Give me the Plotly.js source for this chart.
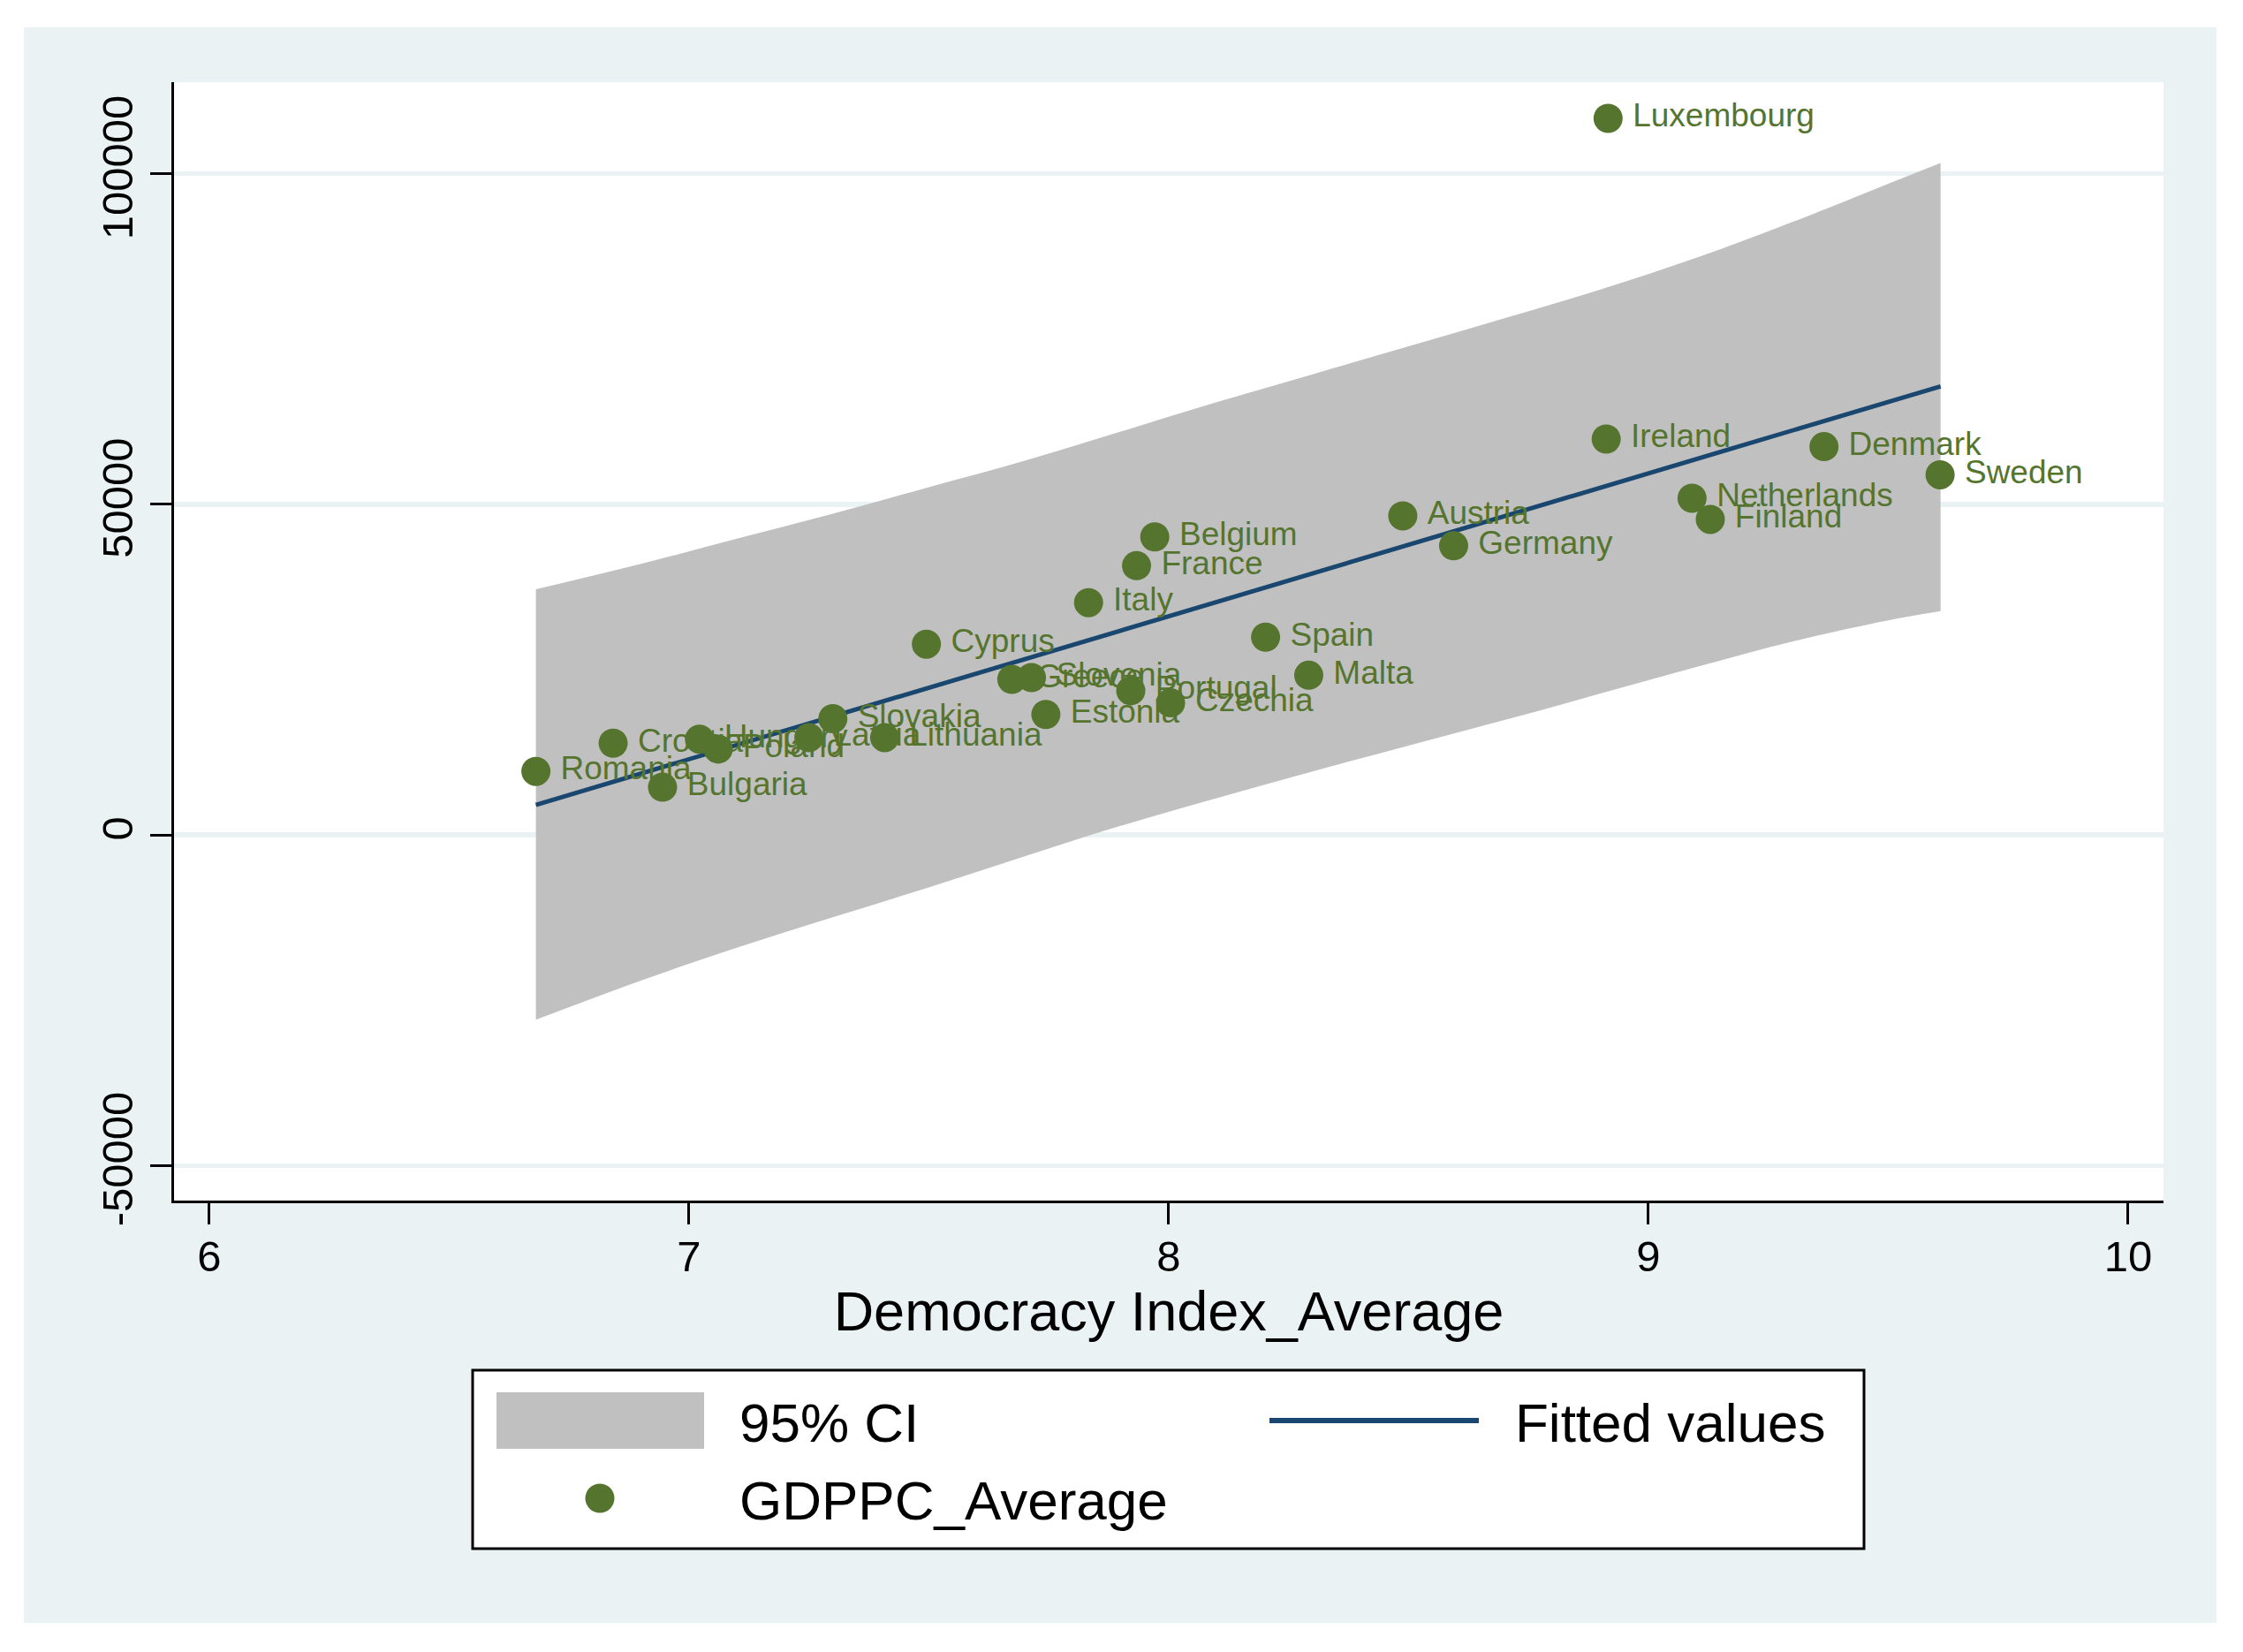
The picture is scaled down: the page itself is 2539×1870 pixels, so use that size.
<!DOCTYPE html>
<html>
<head>
<meta charset="utf-8">
<script src="https://cdn.plot.ly/plotly-3.0.1.min.js"></script>
<style>html,body{margin:0;padding:0;background:#fff;}#chart{width:2539px;height:1870px;}</style>
</head>
<body>
<div id="chart"></div>
<script>
// ---- Data ----
const countries = ["Luxembourg","Ireland","Denmark","Sweden","Netherlands","Finland","Austria","Germany","Belgium","France","Italy","Spain","Malta","Cyprus","Greece","Slovenia","Portugal","Czechia","Estonia","Slovakia","Lithuania","Latvia","Hungary","Poland","Croatia","Romania","Bulgaria"];
const democracyIndex = [8.916, 8.912, 9.366, 9.608, 9.091, 9.129, 8.488, 8.594, 7.971, 7.933, 7.833, 8.202, 8.292, 7.495, 7.673, 7.714, 7.921, 8.004, 7.744, 7.300, 7.408, 7.250, 7.022, 7.061, 6.842, 6.681, 6.945];
const gdppc = [108380, 59877, 58728, 54477, 50922, 47728, 48262, 43745, 45081, 40725, 35138, 29912, 24151, 28856, 23537, 23804, 21810, 19981, 18217, 17589, 14720, 14720, 14488, 12991, 13873, 9610, 7217];

// Fitted line end points
const fitX = [6.681, 9.609];
const fitY = [4550, 67856];

// 95% CI band edges
const ciX = [6.681, 6.90, 7.10, 7.30, 7.50, 7.70, 7.90, 8.10, 8.30, 8.50, 8.70, 8.90, 9.10, 9.30, 9.50, 9.609];
const ciUpper = [37150, 41000, 44800, 48600, 52600, 56600, 61000, 65450, 69680, 73900, 78150, 82500, 87300, 92700, 98500, 101640];
const ciLower = [-27950, -22020, -17070, -12460, -7940, -3230, 1370, 5550, 9610, 13510, 17370, 21380, 25400, 29250, 32450, 33840];

const xTicks = [6, 7, 8, 9, 10];
const yTicks = [-50000, 0, 50000, 100000];
const yTickText = ["-50000", "0", "50000", "100000"];

// ---- Styles ----
const FONT = "Liberation Sans, Arial, Helvetica, sans-serif";
const GREEN = "#55752F";
const NAVY = "#1A476F";
const GRAY = "#C0C0C0";
const BG = "#EAF2F3";

const traces = [
  { type: "scatter", mode: "lines", x: ciX, y: ciLower,
    line: { width: 0, color: GRAY, shape: "spline", smoothing: 1 }, hoverinfo: "skip", showlegend: false },
  { type: "scatter", mode: "lines", x: ciX, y: ciUpper, fill: "tonexty", fillcolor: GRAY,
    line: { width: 0, color: GRAY, shape: "spline", smoothing: 1 }, hoverinfo: "skip", showlegend: false },
  { type: "scatter", mode: "lines", x: fitX, y: fitY, line: { color: NAVY, width: 5 }, showlegend: false },
  { type: "scatter", mode: "markers", x: democracyIndex, y: gdppc,
    marker: { color: GREEN, size: 33, line: { width: 0 } }, showlegend: false },
  { type: "scatter", mode: "markers+text", x: democracyIndex, y: gdppc, text: countries,
    textposition: "middle right", textfont: { family: FONT, size: 37, color: GREEN },
    marker: { size: 43, opacity: 0 }, showlegend: false, hoverinfo: "skip" }
];

// plot area in pixels: left 197, right 2449, top 93, bottom 1359
const L = 197, W = 2252, T = 93, H = 1266;
const px = v => (v - L) / W;
const py = v => (T + H - v) / H;

const layout = {
  width: 2539, height: 1870,
  margin: { l: L, r: 2539 - L - W, t: T, b: 1870 - T - H, pad: 0 },
  paper_bgcolor: "#FFFFFF",
  plot_bgcolor: "#FFFFFF",
  font: { family: FONT, color: "#000" },
  showlegend: false,
  xaxis: {
    range: [5.9267, 10.0737], tickvals: xTicks, ticktext: xTicks.map(String),
    ticks: "outside", ticklen: 24, tickwidth: 3, tickcolor: "#000", ticklabelstandoff: -6,
    showline: true, linewidth: 3, linecolor: "#000", showgrid: false, zeroline: false,
    tickfont: { family: FONT, size: 49, color: "#000" },
    title: { text: "Democracy Index_Average", font: { family: FONT, size: 63, color: "#000" }, standoff: 3 },
    automargin: false
  },
  yaxis: {
    range: [-55306, 113860], tickvals: yTicks, ticktext: yTickText, tickangle: -90,
    ticks: "outside", ticklen: 24, tickwidth: 3, tickcolor: "#000",
    showline: true, linewidth: 3, linecolor: "#000",
    showgrid: true, gridcolor: BG, gridwidth: 5.5, zeroline: false,
    tickfont: { family: FONT, size: 49, color: "#000" },
    automargin: false
  },
  shapes: [
    { type: "rect", xref: "paper", yref: "paper", x0: px(27), x1: px(2509), y0: py(1837), y1: py(31),
      fillcolor: BG, line: { width: 0 }, layer: "below" },
    { type: "rect", xref: "paper", yref: "paper", x0: 0, x1: 1, y0: 0, y1: 1,
      fillcolor: "#FFFFFF", line: { width: 0 }, layer: "below" },
    { type: "rect", xref: "paper", yref: "paper", x0: px(535), x1: px(2110), y0: py(1753), y1: py(1551),
      fillcolor: "#FFFFFF", line: { color: "#000", width: 3 }, layer: "above" },
    { type: "rect", xref: "paper", yref: "paper", x0: px(562), x1: px(797), y0: py(1640), y1: py(1576),
      fillcolor: GRAY, line: { width: 0 }, layer: "above" },
    { type: "line", xref: "paper", yref: "paper", x0: px(1437), x1: px(1674), y0: py(1608), y1: py(1608),
      line: { color: NAVY, width: 6 }, layer: "above" },
    { type: "circle", xref: "paper", yref: "paper", x0: px(662.5), x1: px(695.5), y0: py(1712.5), y1: py(1679.5),
      fillcolor: GREEN, line: { width: 0 }, layer: "above" }
  ],
  annotations: [
    { xref: "paper", yref: "paper", x: px(835), y: py(1610), text: "95% CI", showarrow: false,
      xanchor: "left", yanchor: "middle", font: { family: FONT, size: 62, color: "#000" } },
    { xref: "paper", yref: "paper", x: px(1713), y: py(1610), text: "Fitted values", showarrow: false,
      xanchor: "left", yanchor: "middle", font: { family: FONT, size: 62, color: "#000" } },
    { xref: "paper", yref: "paper", x: px(835), y: py(1698), text: "GDPPC_Average", showarrow: false,
      xanchor: "left", yanchor: "middle", font: { family: FONT, size: 62, color: "#000" } }
  ]
};

Plotly.newPlot("chart", traces, layout, { displayModeBar: false, staticPlot: true });
</script>
</body>
</html>
